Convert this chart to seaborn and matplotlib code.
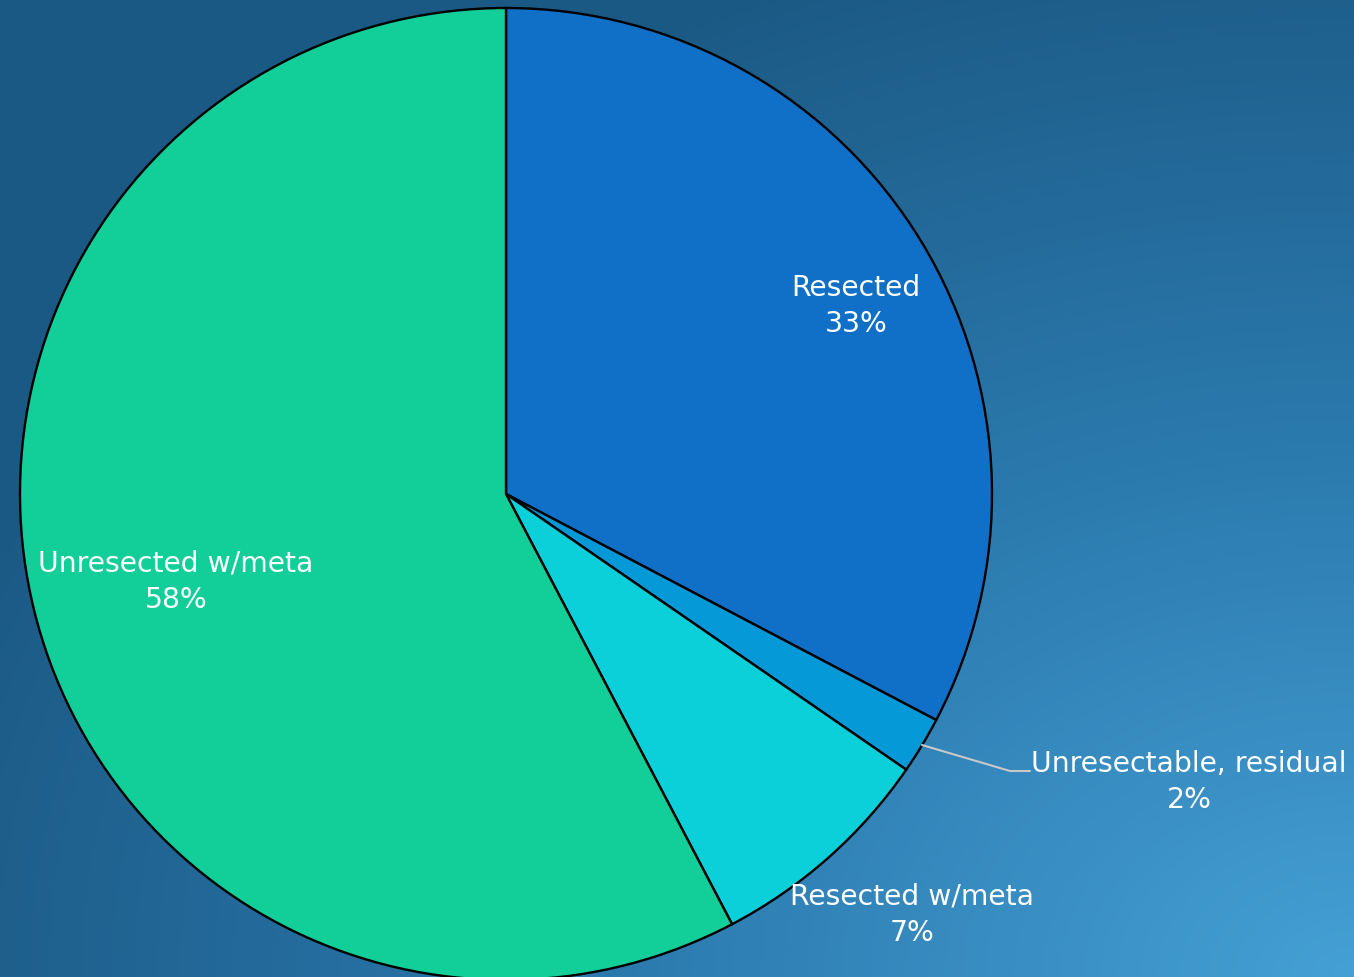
import numpy as np
import matplotlib.pyplot as plt
import matplotlib.colors as mcolors
import seaborn as sns

# --- datos ---
categorias = ["Resected", "Unresectable, residual", "Resected w/meta", "Unresected w/meta"]
valores = [32.7, 1.9, 7.7, 57.7]
etiquetas_pct = ["33%", "2%", "7%", "58%"]
colores = ["#106FC6", "#0699D8", "#0BCFD9", "#12CF9A"]

sns.set_theme(style="white")
plt.rcParams["font.family"] = ["DejaVu Sans"]

W, H = 1354, 978
fig = plt.figure(figsize=(W / 100, H / 100), dpi=100)
ax = fig.add_axes([0, 0, 1, 1])

# fondo con degradado radial desde la esquina inferior derecha
yy, xx = np.mgrid[0:H, 0:W]
d = np.sqrt(((W - xx) / W) ** 2 + (yy / H) ** 2) / np.sqrt(2)
d = np.clip(d * 1.3, 0, 1)
cmap_fondo = mcolors.LinearSegmentedColormap.from_list("fondo", ["#45A0D5", "#2B7AAE", "#1C5A86"])
ax.imshow(d, cmap=cmap_fondo, extent=[0, W, 0, H], origin="lower", aspect="auto", zorder=0)

# pastel
wedges, _ = ax.pie(
    valores,
    colors=colores,
    startangle=90,
    counterclock=False,
    center=(506, 483),
    radius=486,
    wedgeprops={"edgecolor": "black", "linewidth": 1.7},
    frame=True,
)
for w in wedges:
    w.set_zorder(2)
ax.set_xlim(0, W)
ax.set_ylim(0, H)
ax.axis("off")

# etiquetas
pos_etiquetas = [(856, 978 - 306), (1189, 978 - 782), (912, 978 - 915), (176, 978 - 582)]
for cat, pct, (x, y) in zip(categorias, etiquetas_pct, pos_etiquetas):
    ax.text(x, y, f"{cat}\n{pct}", ha="center", va="center", color="white",
            fontsize=20.3, linespacing=1.4, zorder=4)

# línea guía para la etiqueta pequeña
ax.plot([922, 1010, 1030], [978 - 746, 978 - 772, 978 - 772], color="#C8C8C8",
        linewidth=1.5, zorder=3, solid_capstyle="round")

fig.savefig("out.png", dpi=100)
